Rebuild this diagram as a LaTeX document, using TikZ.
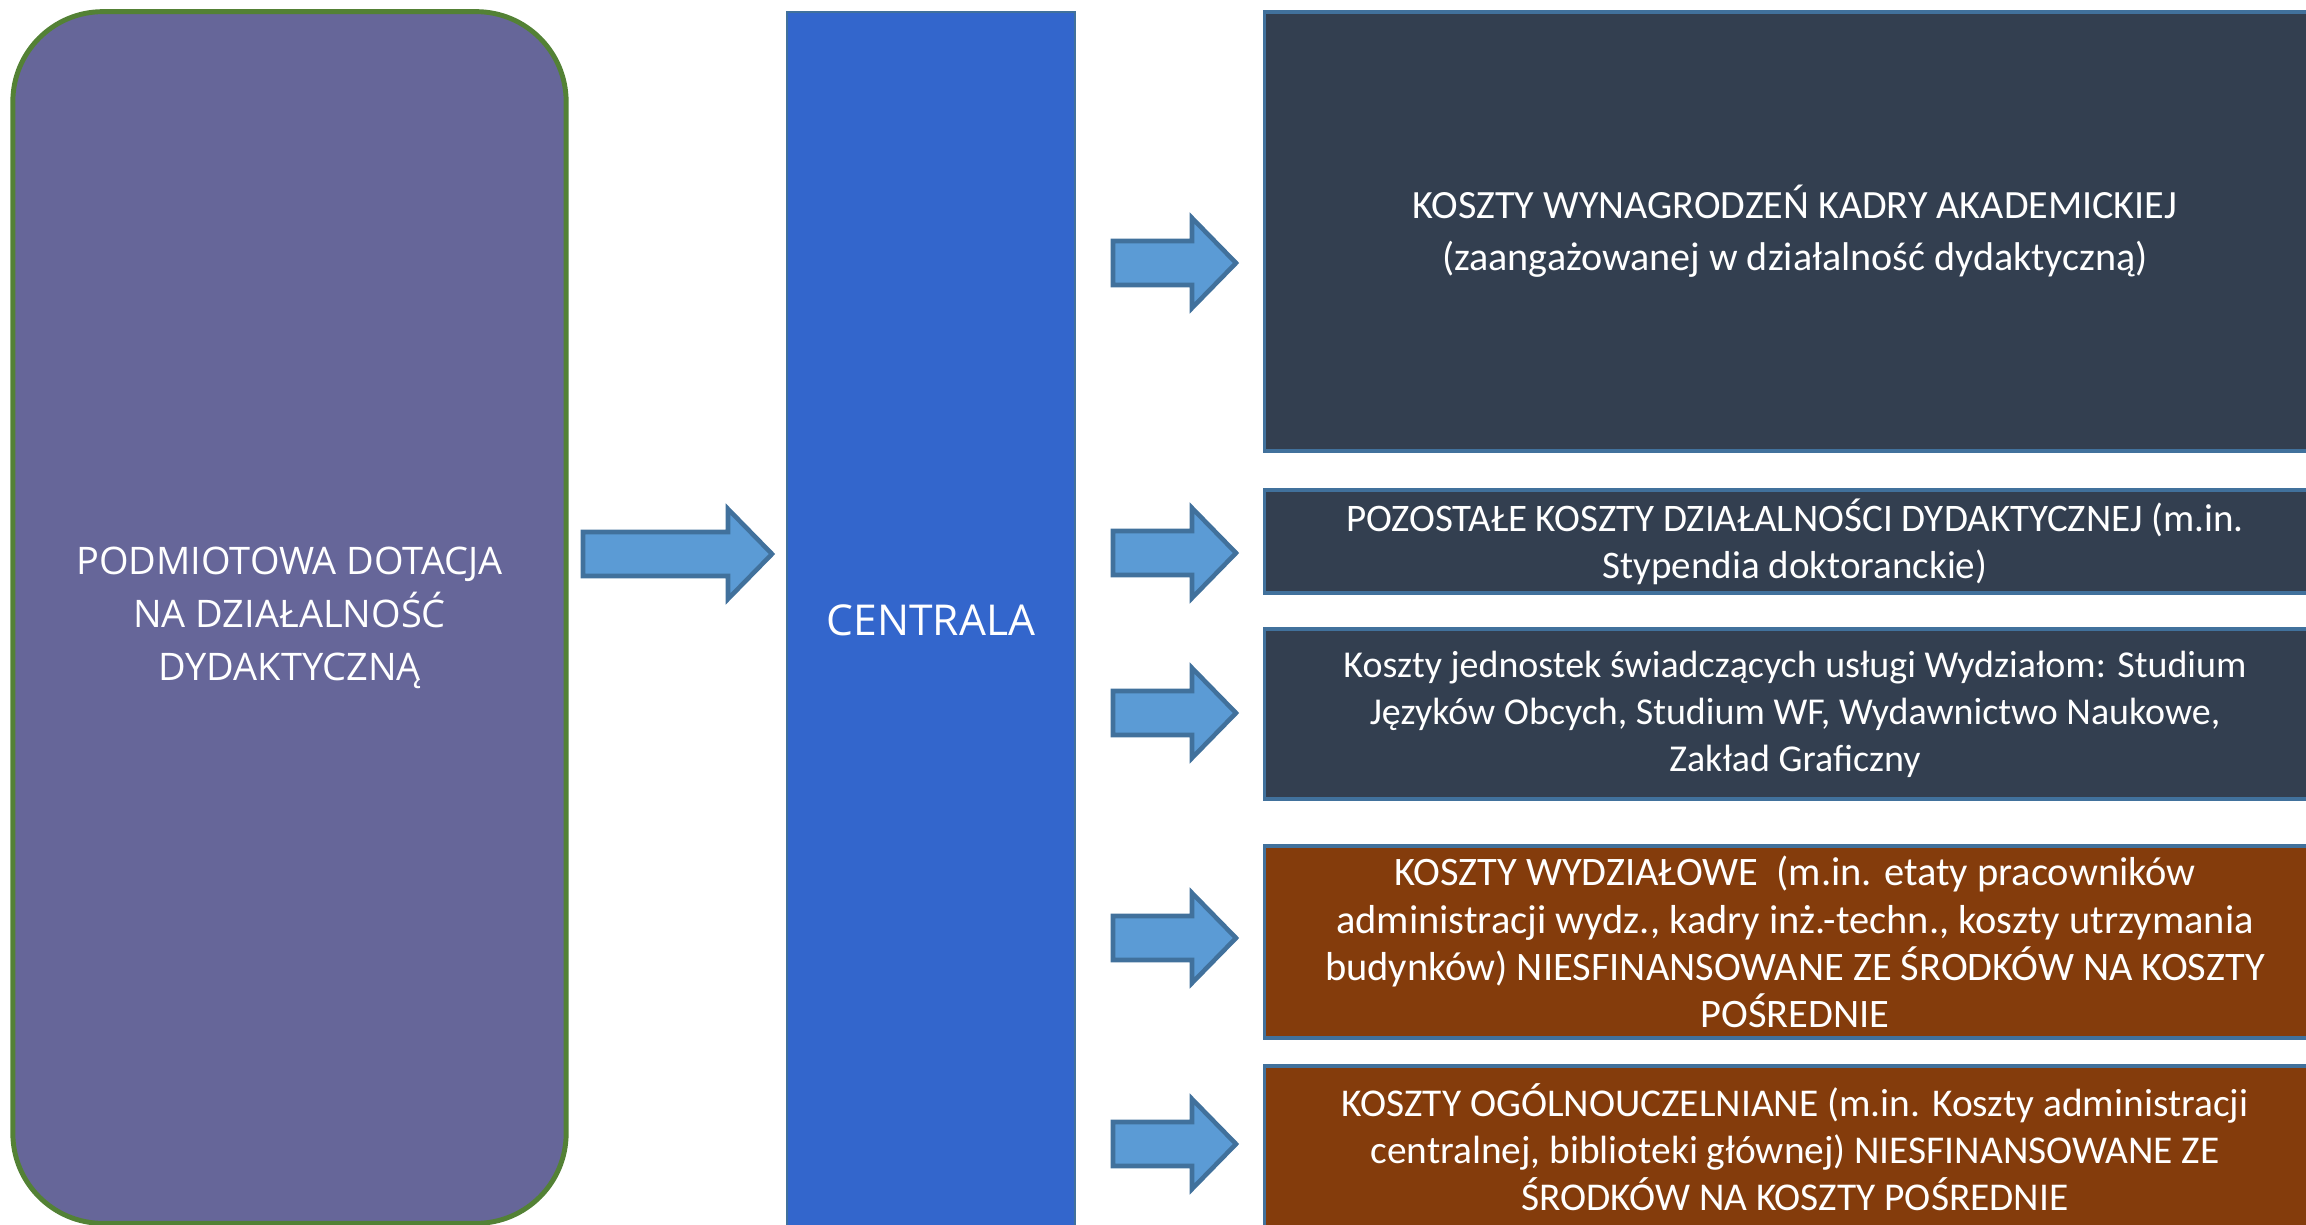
\documentclass[tikz,border=0pt]{standalone}
\usepackage{fontspec}
\setmainfont{Carlito}
\newfontfamily\szerokifont{Open Sans}
\usepackage{xcolor}
\usepackage{tikz}
\usetikzlibrary{positioning}

\definecolor{dotacja}{HTML}{666699}
\definecolor{dotacjaramka}{HTML}{538135}
\definecolor{centrala}{HTML}{3366CC}
\definecolor{ramka}{HTML}{41719C}
\definecolor{granat}{HTML}{333F50}
\definecolor{braz}{HTML}{843C0C}
\definecolor{strzalka}{HTML}{5B9BD5}

% block arrow: start x, tip x, y
\newcommand{\blokstrz}[3]{%
  \draw[strz] (#1,#3-22) -- (#2-44,#3-22) -- (#2-44,#3-45) -- (#2,#3)
    -- (#2-44,#3+45) -- (#2-44,#3+22) -- (#1,#3+22) -- cycle;}

\begin{document}
\begin{tikzpicture}[x=0.01cm, y=-0.01cm,
  koszt/.style={draw=ramka, line width=1pt, text=white, align=center,
    inner sep=0pt, minimum width=10.6cm},
  strz/.style={draw=ramka, fill=strzalka, line width=1.3pt, line join=miter}]
\useasboundingbox (0,0) rectangle (2306,1225);
\clip (0,0) rectangle (2306,1225);

\node[draw=dotacjaramka, fill=dotacja, line width=1.4pt, rounded corners=0.9cm,
  minimum width=5.53cm, minimum height=12.11cm, inner sep=0pt, text=white,
  align=center, font=\szerokifont\fontsize{10.8}{15.1}\selectfont] (dotacja) at (289.5,617.5)
  {PODMIOTOWA DOTACJA\\NA DZIAŁALNOŚĆ\\DYDAKTYCZNĄ};
\node[draw=ramka, fill=centrala, line width=0.6pt, minimum width=2.88cm,
  minimum height=12.16cm, inner sep=0pt, text=white,
  font=\szerokifont\fontsize{12.1}{15.1}\selectfont] (centrala) at (931,620) {CENTRALA};

\node[koszt, fill=granat, minimum height=4.39cm, font=\fontsize{11.4}{14.8}\selectfont]
  (kadra) at (1795,231.5)
  {KOSZTY WYNAGRODZEŃ KADRY AKADEMICKIEJ\\(zaangażowanej w działalność dydaktyczną)};
\node[koszt, fill=granat, minimum height=1.03cm, font=\fontsize{11.1}{13.4}\selectfont]
  (pozostale) at (1795,541.5)
  {POZOSTAŁE KOSZTY DZIAŁALNOŚCI DYDAKTYCZNEJ (m.in.\\Stypendia doktoranckie)};
\node[koszt, fill=granat, minimum height=1.70cm, font=\fontsize{10.8}{13.4}\selectfont]
  (jednostki) at (1795,714)
  {Koszty jednostek świadczących usługi Wydziałom: Studium\\Języków Obcych, Studium WF, Wydawnictwo Naukowe,\\Zakład Graficzny};
\node[koszt, fill=braz, minimum height=1.92cm, font=\fontsize{11.5}{13.4}\selectfont]
  (wydzialowe) at (1795,942)
  {KOSZTY WYDZIAŁOWE~ (m.in. etaty pracowników\\administracji wydz., kadry inż.-techn., koszty utrzymania\\budynków) NIESFINANSOWANE ZE ŚRODKÓW NA KOSZTY\\POŚREDNIE};
\node[koszt, fill=braz, minimum height=1.62cm, font=\fontsize{11.2}{13.4}\selectfont]
  (ogolne) at (1795,1147)
  {KOSZTY OGÓLNOUCZELNIANE (m.in. Koszty administracji\\centralnej, biblioteki głównej) NIESFINANSOWANE ZE\\ŚRODKÓW NA KOSZTY POŚREDNIE};

\blokstrz{583}{772}{554}
\blokstrz{1113}{1236}{263}
\blokstrz{1113}{1236}{553}
\blokstrz{1113}{1236}{713}
\blokstrz{1113}{1236}{938}
\blokstrz{1113}{1236}{1144}
\end{tikzpicture}
\end{document}
